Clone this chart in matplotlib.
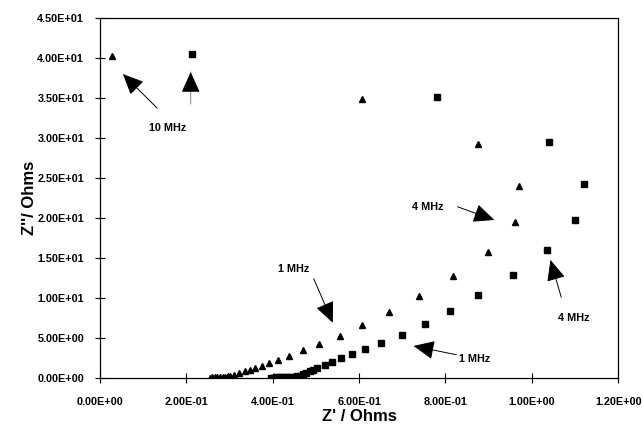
import matplotlib.pyplot as plt
from matplotlib.ticker import FuncFormatter

plt.rcParams['font.family'] = ['Liberation Sans', 'DejaVu Sans']

# triangle series: Z' and Z''
tri_x = [0.254, 0.260, 0.266, 0.272, 0.278, 0.284, 0.290, 0.296, 0.302, 0.310,
         0.322, 0.335, 0.347, 0.358, 0.374, 0.392, 0.413, 0.438, 0.470, 0.507,
         0.555, 0.607, 0.670, 0.738, 0.818, 0.898, 0.960, 0.970, 0.876, 0.606, 0.028]
tri_y = [0.05, 0.06, 0.07, 0.08, 0.10, 0.12, 0.16, 0.22, 0.30, 0.42,
         0.58, 0.85, 1.05, 1.25, 1.5, 1.83, 2.2, 2.75, 3.45, 4.3,
         5.3, 6.6, 8.2, 10.2, 12.7, 15.75, 19.5, 24.0, 29.2, 34.9, 40.25]

# square series
sq_x = [0.395, 0.401, 0.408, 0.415, 0.422, 0.429, 0.436, 0.443, 0.450, 0.456, 0.463,
        0.470, 0.478, 0.486, 0.494, 0.503, 0.520, 0.538, 0.559, 0.584, 0.614,
        0.650, 0.699, 0.752, 0.811, 0.875, 0.957, 1.036, 1.101, 1.121, 1.040, 0.780, 0.212]
sq_y = [0.05, 0.05, 0.06, 0.07, 0.08, 0.09, 0.10, 0.12, 0.15, 0.20, 0.30,
        0.45, 0.65, 0.85, 1.05, 1.3, 1.6, 1.96, 2.46, 2.96, 3.6,
        4.4, 5.4, 6.75, 8.4, 10.4, 12.9, 16.0, 19.7, 24.3, 29.5, 35.1, 40.5]

# annotations: label, text pos, arrow tail, arrow head
notes = [
    ("10 MHz", (0.157, 31.25), (0.132, 33.75), (0.053, 38.0)),
    ("1 MHz", (0.449, 13.6), (0.495, 12.4), (0.539, 6.9)),
    ("4 MHz", (0.758, 21.4), (0.828, 21.4), (0.913, 19.75)),
    ("4 MHz", (1.098, 7.5), (1.068, 10.1), (1.043, 14.75)),
    ("1 MHz", (0.867, 2.4), (0.825, 2.9), (0.726, 4.0)),
]
extra_arrow = ((0.210, 34.25), (0.210, 38.25))

fig = plt.figure(figsize=(6.43, 4.29), dpi=100)
ax = fig.add_axes([0.1555, 0.119, 0.806, 0.839])

ax.plot(tri_x, tri_y, linestyle='none', marker='^', ms=4.3, color='black')
ax.plot(sq_x, sq_y, linestyle='none', marker='s', ms=3.8, color='black')

head = dict(arrowstyle='-|>,head_length=1.0,head_width=0.45', color='black',
            lw=0.7, mutation_scale=13, shrinkA=0, shrinkB=0)
for label, tpos, tail, tip in notes:
    ax.text(tpos[0], tpos[1], label, fontsize=7.8, fontweight='bold',
            ha='center', va='center')
    ax.annotate('', xy=tip, xytext=tail, arrowprops=head)
# second 10 MHz arrow: grey shaft under a black head
ax.annotate('', xy=extra_arrow[1], xytext=extra_arrow[0],
            arrowprops=dict(arrowstyle='-', color='#999999', lw=0.8,
                            shrinkA=0, shrinkB=0))
ax.annotate('', xy=extra_arrow[1], xytext=(extra_arrow[0][0], extra_arrow[1][1] - 1.8),
            arrowprops=head)

ax.set_xlim(0, 1.2)
ax.set_ylim(0, 45)
ax.set_xticks([0, 0.2, 0.4, 0.6, 0.8, 1.0, 1.2])
ax.set_yticks(range(0, 46, 5))
fmt = FuncFormatter(lambda v, p: '%.2E' % v)
ax.xaxis.set_major_formatter(fmt)
ax.yaxis.set_major_formatter(fmt)
ax.tick_params(direction='inout', length=7, width=0.8, labelsize=7.8)
ax.tick_params(axis='x', pad=10)
ax.tick_params(axis='y', pad=8)
for lab in ax.get_xticklabels() + ax.get_yticklabels():
    lab.set_fontweight('bold')
for s in ax.spines.values():
    s.set_linewidth(0.9)

ax.set_xlabel("Z' / Ohms", fontsize=12, fontweight='bold', labelpad=2)
ax.set_ylabel("Z''/ Ohms", fontsize=12, fontweight='bold', labelpad=0)

fig.savefig('out.png', dpi=100)
